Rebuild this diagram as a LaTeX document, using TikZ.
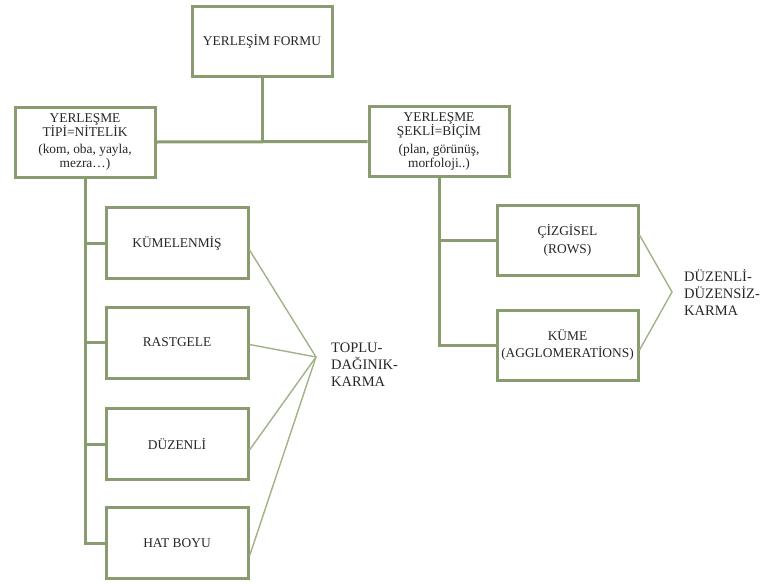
\documentclass[tikz,border=0pt]{standalone}
\usepackage{fontspec}
\setmainfont{Liberation Serif}
\definecolor{yesil}{RGB}{137,156,112}
\definecolor{acikyesil}{RGB}{160,178,136}
\tikzset{
  kutu/.style={draw=yesil,line width=3pt,fill=white,minimum width=140pt,
    minimum height=70pt,align=center,inner sep=2pt,
    font=\fontsize{13.4}{14.2}\selectfont,text=black!85},
  dal/.style={draw=yesil,line width=3pt},
  yelpaze/.style={draw=acikyesil,line width=1.4pt},
  etiket/.style={anchor=west,align=left,inner sep=0pt,
    font=\fontsize{14.5}{17}\selectfont,text=black!85}
}
\begin{document}
\begin{tikzpicture}[x=1pt,y=-1pt]
    \useasboundingbox (0,0) rectangle (769,584);
    % ust kutular
    \node[kutu] (form) at (262,41.5) {YERLEŞİM FORMU};
    \node[kutu] (tip) at (85,142) {YERLEŞME\\TİPİ=NİTELİK\\[3pt](kom, oba, yayla,\\mezra…)};
    \node[kutu] (sekil) at (439,141.5) {YERLEŞME\\ŞEKLİ=BİÇİM\\[3pt](plan, görünüş,\\morfoloji..)};
    \draw[dal] (tip.east) -- (sekil.west);
    \draw[dal] (form.south) -- (form.south |- tip.east);
    % sol kol
    \foreach \ad/\yazi/\y in {kum/KÜMELENMİŞ/243,ras/RASTGELE/342.5,duz/DÜZENLİ/444,hat/HAT BOYU/543}
    \node[kutu,minimum width=142pt,minimum height=71pt] (\ad) at (177,\y) {\yazi};
    \draw[dal] (tip.south) -- (tip.south |- hat.west) -- (hat.west);
    \foreach \ad in {kum,ras,duz}
    \draw[dal] (tip.south |- \ad.west) -- (\ad.west);
    \coordinate (uc1) at (316,357);
    \foreach \ad/\d in {kum/-7,ras/-2,duz/-6,hat/-13}
    \draw[yelpaze] ([yshift=\d pt]\ad.east) -- (uc1);
    \node[etiket] (toplu) at (331,365) {TOPLU-\\DAĞINIK-\\KARMA};
    % sag kol
    \node[kutu,minimum width=141pt] (cizgi) at (567.5,240) {ÇİZGİSEL\\[4pt](ROWS)};
    \node[kutu,minimum width=141pt] (kume) at (567.5,345) {KÜME\\[2pt](AGGLOMERATİONS)};
    \draw[dal] (sekil.south) -- (sekil.south |- kume.west) -- (kume.west);
    \draw[dal] (sekil.south |- cizgi.west) -- (cizgi.west);
    \coordinate (uc2) at (672,292);
    \draw[yelpaze] ([yshift=5pt]cizgi.east) -- (uc2) -- ([yshift=-5pt]kume.east);
    \node[etiket] (duzen) at (684,293) {DÜZENLİ-\\DÜZENSİZ-\\KARMA};
\end{tikzpicture}
\end{document}
